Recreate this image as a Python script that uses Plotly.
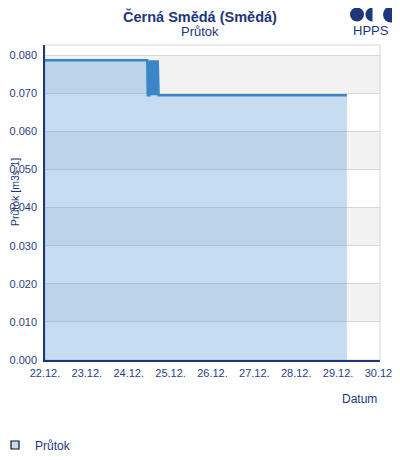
import math
import plotly.graph_objects as go

# ---- data ----
times = [
    "2023-12-22 00:00", "2023-12-24 10:36", "2023-12-24 10:54", "2023-12-24 11:54",
    "2023-12-24 12:06", "2023-12-24 12:30", "2023-12-24 12:48", "2023-12-24 13:12",
    "2023-12-24 13:30", "2023-12-24 13:54", "2023-12-24 14:12", "2023-12-24 14:36",
    "2023-12-24 14:54", "2023-12-24 15:18", "2023-12-24 15:36", "2023-12-24 16:00",
    "2023-12-24 16:36", "2023-12-24 17:06", "2023-12-29 05:00",
]
flow = [
    0.0787, 0.0787, 0.0695, 0.0695,
    0.0787, 0.0695, 0.0787, 0.0695,
    0.0787, 0.0695, 0.0787, 0.0695,
    0.0787, 0.0695, 0.0787, 0.0695,
    0.0787, 0.0695, 0.0695,
]
series_name = "Průtok"
title_text = "Černá Smědá (Smědá)"
subtitle_text = "Průtok"
y_title = "Průtok [m3s-1]"
x_title = "Datum"

NAVY = "#1d377a"
TICK = "#2a4285"
FONT = "Liberation Sans, Arial, sans-serif"

# page has an 8px body margin; work in page pixels and convert
OFF = 8
W, H = 400 - OFF, 460 - OFF
# plot area in page pixels
L, R, T, B = 45, 380, 45, 360
def px(x):
    return (x - L) / (R - L)
def py(y):
    return (B - y) / (B - T)

fig = go.Figure()
fig.add_trace(go.Scatter(
    x=times, y=flow, mode="lines", name=series_name,
    line=dict(color="#3a86c6", width=2.5),
    fill="tozeroy", fillcolor="rgba(90,155,215,0.35)",
    showlegend=False,
))
# legend entry
fig.add_trace(go.Scatter(
    x=[None], y=[None], mode="markers", name=series_name,
    marker=dict(symbol="square", size=8, color="#c6dcf0",
                line=dict(color="#111111", width=1.2)),
))

shapes = []
# alternating bands
for lo in [0.01, 0.03, 0.05, 0.07]:
    shapes.append(dict(type="rect", xref="paper", yref="y", x0=0, x1=1,
                       y0=lo, y1=lo + 0.01, fillcolor="#f2f2f2",
                       line=dict(width=0), layer="below"))
# plot frame (light)
shapes.append(dict(type="rect", xref="paper", yref="paper", x0=0, x1=1, y0=0, y1=1,
                   line=dict(color="#d6d6d6", width=1), layer="below"))
# logo
LY = 14.5
shapes.append(dict(type="circle", xref="paper", yref="paper",
                   x0=px(350), x1=px(364), y0=py(LY + 7), y1=py(LY - 7),
                   fillcolor=NAVY, line=dict(width=0)))
cx, cy, r = 372.5, LY, 7
pts = []
for k in range(0, 19):
    a = math.pi / 2 + math.pi * k / 18
    pts.append((px(cx + r * math.cos(a)), py(cy - r * math.sin(a))))
path = "M " + " L ".join(f"{a:.5f},{b:.5f}" for a, b in pts) + " Z"
shapes.append(dict(type="path", xref="paper", yref="paper", path=path,
                   fillcolor=NAVY, line=dict(width=0)))
shapes.append(dict(type="circle", xref="paper", yref="paper",
                   x0=px(383), x1=px(399), y0=py(LY + 8), y1=py(LY - 8),
                   fillcolor=NAVY, line=dict(width=0)))

def ann(text, x, y, size, **kw):
    d = dict(text=text, xref="paper", yref="paper", x=px(x), y=py(y),
             xanchor="center", yanchor="middle", showarrow=False,
             font=dict(size=size, color=NAVY))
    d.update(kw)
    return d

annotations = [
    ann(f"<b>{title_text}</b>", 200, 16, 14.5),
    ann(subtitle_text, 200, 32, 13),
    ann("HPPS", 371, 31, 13),
    ann(y_title, 15, 192, 10.5, textangle=-90),
    ann(x_title, 359, 399, 12),
]

fig.update_layout(
    width=W, height=H,
    margin=dict(l=L - OFF, r=400 - R, t=T - OFF, b=460 - B, autoexpand=False),
    paper_bgcolor="white", plot_bgcolor="white",
    font=dict(family=FONT, color=TICK, size=11),
    shapes=shapes, annotations=annotations,
    legend=dict(orientation="h", x=px(-5), y=py(445), xanchor="left", yanchor="middle",
                font=dict(size=12, color=NAVY), itemwidth=30),
)
fig.update_xaxes(
    type="date", range=["2023-12-22", "2023-12-30"], automargin=False,
    tickformat="%d.%m.", dtick=86400000, tick0="2023-12-22",
    showgrid=False, showline=True, linecolor=NAVY, linewidth=1.5,
    ticks="", tickfont=dict(size=11, color=TICK), zeroline=False,
    ticklabelstandoff=2,
)
fig.update_yaxes(
    range=[0, 0.0827], dtick=0.01, tickformat=".3f", automargin=False,
    showgrid=True, gridcolor="#d6d6d6", gridwidth=1,
    showline=True, linecolor=NAVY, linewidth=1.5,
    ticks="", tickfont=dict(size=11, color=TICK), zeroline=False,
    ticklabelstandoff=4,
)

fig.write_html("out.html")
